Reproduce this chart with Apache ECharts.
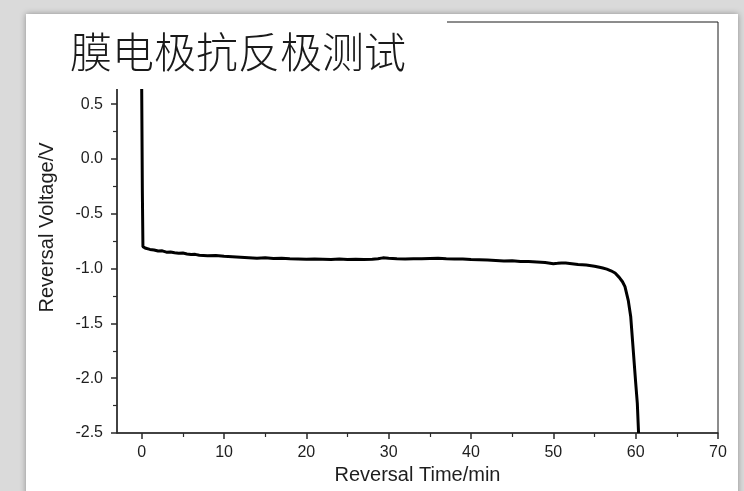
<!DOCTYPE html>
<html>
<head>
<meta charset="utf-8">
<script src="https://cdn.jsdelivr.net/npm/echarts@6/dist/echarts.min.js"></script>
<style>
html,body{margin:0;padding:0;background:#dadada;}
#chart{width:744px;height:491px;}
</style>
</head>
<body>
<div id="chart"></div>
<script>
var titleText = '膜电极抗反极测试';
var xName = 'Reversal Time/min';
var yName = 'Reversal Voltage/V';

var xMajorTicks = [0, 10, 20, 30, 40, 50, 60, 70];
var xMinorTicks = [5, 15, 25, 35, 45, 55, 65];
var yMajorTicks = [-2.5, -2.0, -1.5, -1.0, -0.5, 0.0, 0.5];
var yMinorTicks = [-2.25, -1.75, -1.25, -0.75, -0.25, 0.25];

var timeMin = [0, 0.08, 0.15, 0.5, 1, 1.5, 2, 2.5, 3, 3.5, 4, 4.5, 5, 5.5, 6, 6.5, 7, 8, 9, 10, 11, 12, 13, 14, 15, 16, 17, 18, 19, 20, 21, 22, 23, 24, 25, 26, 27, 28, 28.7, 29.3, 30, 31, 32, 33, 34, 35, 36, 37, 38, 39, 40, 41, 42, 43, 44, 45, 46, 47, 48, 49, 50, 50.5, 51, 51.5, 52, 53, 54, 55, 55.6, 56, 56.5, 57, 57.5, 58, 58.4, 58.7, 59.1, 59.4, 59.7, 60.0, 60.2, 60.35];
var voltage = [0.65, -0.3, -0.80, -0.815, -0.825, -0.83, -0.84, -0.838, -0.85, -0.848, -0.855, -0.86, -0.858, -0.866, -0.872, -0.87, -0.878, -0.882, -0.88, -0.888, -0.892, -0.896, -0.9, -0.905, -0.902, -0.908, -0.906, -0.91, -0.912, -0.915, -0.912, -0.914, -0.916, -0.913, -0.917, -0.914, -0.916, -0.915, -0.91, -0.902, -0.906, -0.91, -0.912, -0.909, -0.91, -0.908, -0.906, -0.91, -0.913, -0.912, -0.918, -0.92, -0.922, -0.925, -0.93, -0.928, -0.935, -0.936, -0.94, -0.944, -0.955, -0.952, -0.948, -0.95, -0.953, -0.962, -0.968, -0.978, -0.988, -0.995, -1.005, -1.02, -1.04, -1.08, -1.12, -1.165, -1.29, -1.44, -1.74, -2.04, -2.23, -2.5];

var seriesData = timeMin.map(function (t, i) { return [t, voltage[i]]; });

var chart = echarts.init(document.getElementById('chart'), null, {renderer: 'canvas'});

var axisColor = '#2a2a2a';
var textColor = '#1e1e1e';
var font = 'Liberation Sans, Arial, sans-serif';

var option = {
  backgroundColor: '#dadada',
  animation: false,
  grid: {
    left: 117, right: 26, top: 22, bottom: 58,
    show: true, borderColor: '#1a1a1a', borderWidth: 1, backgroundColor: 'transparent'
  },
  xAxis: [{
    type: 'value', min: -3, max: 70, position: 'bottom',
    axisLine: {show: true, onZero: false, lineStyle: {color: axisColor, width: 1.5}},
    axisTick: {show: true, customValues: xMajorTicks, length: 6, lineStyle: {color: axisColor, width: 1.5}},
    axisLabel: {customValues: xMajorTicks, fontSize: 16, color: textColor, fontFamily: font, margin: 12},
    splitLine: {show: false},
    name: xName, nameLocation: 'middle', nameGap: 29,
    nameTextStyle: {fontSize: 20, color: textColor, fontFamily: font}
  }, {
    type: 'value', min: -3, max: 70, position: 'bottom', gridIndex: 0,
    axisLine: {show: false, onZero: false},
    axisTick: {show: true, customValues: xMinorTicks, length: 4, lineStyle: {color: axisColor, width: 1.2}},
    axisLabel: {show: false},
    splitLine: {show: false}
  }],
  yAxis: [{
    type: 'value', min: -2.5, max: 1.25, position: 'left',
    axisLine: {show: true, onZero: false, lineStyle: {color: axisColor, width: 1.5}},
    axisTick: {show: true, customValues: yMajorTicks, length: 6, lineStyle: {color: axisColor, width: 1.5}},
    axisLabel: {customValues: yMajorTicks, fontSize: 16, color: textColor, fontFamily: font, margin: 14,
      formatter: function (v) { return v.toFixed(1); }},
    splitLine: {show: false},
    name: yName, nameLocation: 'middle', nameGap: 60, nameRotate: 90,
    nameTextStyle: {fontSize: 20, color: textColor, fontFamily: font}
  }, {
    type: 'value', min: -2.5, max: 1.25, position: 'left', gridIndex: 0,
    axisLine: {show: false, onZero: false},
    axisTick: {show: true, customValues: yMinorTicks, length: 4, lineStyle: {color: axisColor, width: 1.2}},
    axisLabel: {show: false},
    splitLine: {show: false}
  }],
  series: [{
    type: 'line', xAxisIndex: 0, yAxisIndex: 0,
    data: seriesData, showSymbol: false, symbol: 'none', smooth: false,
    lineStyle: {color: '#000', width: 3},
    z: 5
  }],
  graphic: [
    {type: 'rect', z: -100, silent: true,
      shape: {x: 26, y: 14, width: 712, height: 490},
      style: {fill: '#ffffff', shadowBlur: 6, shadowColor: 'rgba(0,0,0,0.35)', shadowOffsetX: 0, shadowOffsetY: 0}},
    {type: 'rect', z: 100, silent: true,
      shape: {x: 28, y: 15, width: 419, height: 74},
      style: {fill: '#ffffff'}},
    {type: 'text', z: 101, silent: true, x: 70, y: 52,
      style: {text: titleText, font: '300 42px "Noto Sans CJK SC"', fill: '#1a1a1a', textVerticalAlign: 'middle', verticalAlign: 'middle'}}
  ]
};
chart.setOption(option);
</script>
</body>
</html>
